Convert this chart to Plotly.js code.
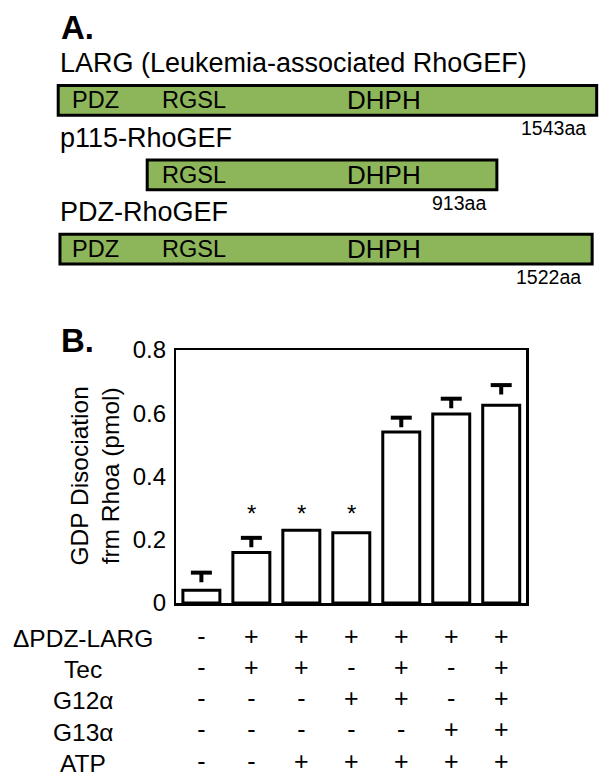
<!DOCTYPE html>
<html>
<head>
<meta charset="utf-8">
<script src="https://cdn.plot.ly/plotly-3.0.1.min.js"></script>
<style>html,body{margin:0;padding:0;background:#fff}#chart{width:608px;height:783px}</style>
</head>
<body>
<div id="chart"></div>
<script>
// ---- Panel A: domain diagrams (schematic, not to scale) ----
const proteins = ['LARG (Leukemia-associated RhoGEF)', 'p115-RhoGEF', 'PDZ-RhoGEF'];
const proteinLengthAA = [1543, 913, 1522];          // labelled lengths
const diagramStart = [0, 255, 5];                   // drawn extent (schematic units)
const diagramEnd = [1543, 1257, 1530];
const domainNames = ['PDZ', 'RGSL', 'DHPH'];
const domainLabelPos = [107, 389, 933];
const domainsPresent = [[true, true, true], [false, true, true], [true, true, true]];

// ---- Panel B: GDP dissociation ----
const lanes = [1, 2, 3, 4, 5, 6, 7];
const gdpDissociation = [0.04, 0.16, 0.23, 0.222, 0.541, 0.598, 0.625];
const gdpError = [0.056, 0.046, null, null, 0.045, 0.048, 0.064];
const significant = [false, true, true, true, false, false, false];
const asteriskLevel = 0.3;
const yTickVals = [0, 0.2, 0.4, 0.6, 0.8];
const yTickText = ['0', '0.2', '0.4', '0.6', '0.8'];
const conditionNames = ['\u0394PDZ-LARG', 'Tec', 'G12\u03b1', 'G13\u03b1', 'ATP'];
const conditionMatrix = [
  ['-', '+', '+', '+', '+', '+', '+'],
  ['-', '+', '+', '-', '+', '-', '+'],
  ['-', '-', '-', '+', '+', '-', '+'],
  ['-', '-', '-', '-', '-', '+', '+'],
  ['-', '-', '+', '+', '+', '+', '+']
];

const FONT = 'Liberation Sans, Arial, Helvetica, sans-serif';
const GREEN = '#8db55a';
const T_STEM = 0.03; // drawn length of the error-bar stem below its cap (style)

const traces = [];

// domain bars
traces.push({
  type: 'bar', orientation: 'h',
  y: proteins, x: diagramEnd.map((e, i) => e - diagramStart[i]), base: diagramStart,
  xaxis: 'x2', yaxis: 'y2', width: 0.4,
  marker: {color: GREEN, line: {color: '#000', width: 3}},
  hoverinfo: 'skip'
});

// GDP bars
traces.push({
  type: 'bar', x: lanes, y: gdpDissociation,
  xaxis: 'x', yaxis: 'y',
  marker: {color: '#fff', line: {color: '#000', width: 3}},
  hoverinfo: 'skip'
});

// error "T" marks (cap at mean + error, short stem below)
const ex = [], ey = [];
lanes.forEach((lane, i) => {
  if (gdpError[i] === null) return;
  ex.push(lane); ey.push(gdpDissociation[i] + gdpError[i]);
});
traces.push({
  type: 'scatter', mode: 'markers', x: ex, y: ey, xaxis: 'x', yaxis: 'y',
  marker: {symbol: 'line-ew', size: 15, color: '#000', line: {color: '#000', width: 4}},
  error_y: {type: 'data', symmetric: false, array: ex.map(() => 0),
    arrayminus: ex.map(() => T_STEM), width: 0, thickness: 4, color: '#000'},
  cliponaxis: false, hoverinfo: 'skip'
});

// condition table
const tx = [], ty = [], tt = [];
conditionNames.forEach((name, r) => {
  lanes.forEach((lane, c) => {
    tx.push(lane); ty.push(name); tt.push(conditionMatrix[r][c]);
  });
});
traces.push({
  type: 'scatter', mode: 'text', x: tx, y: ty, text: tt,
  xaxis: 'x', yaxis: 'y3', cliponaxis: false,
  textposition: 'middle center',
  textfont: {family: FONT, size: 25, color: '#000'},
  hoverinfo: 'skip'
});

const annotations = [];
// panel letters
annotations.push({text: '<b>A.</b>', xref: 'paper', yref: 'paper', x: 59/608, y: 1 - 27.5/783,
  xanchor: 'left', yanchor: 'middle', showarrow: false, font: {family: FONT, size: 33, color: '#000'}});
annotations.push({text: '<b>B.</b>', xref: 'paper', yref: 'paper', x: 59/608, y: 1 - 340/783,
  xanchor: 'left', yanchor: 'middle', showarrow: false, font: {family: FONT, size: 33, color: '#000'}});

// protein names, domain labels, lengths
proteins.forEach((p, i) => {
  annotations.push({text: p, xref: 'paper', yref: 'y2', x: 58/608, y: p, yshift: 37,
    xanchor: 'left', yanchor: 'middle', showarrow: false, font: {family: FONT, size: 27, color: '#000'}});
  domainNames.forEach((d, j) => {
    if (!domainsPresent[i][j]) return;
    annotations.push({text: d, xref: 'x2', yref: 'y2', x: domainLabelPos[j], y: p,
      xanchor: 'center', yanchor: 'middle', showarrow: false,
      font: {family: FONT, size: j === 2 ? 26 : 23.5, color: '#000'}});
  });
  annotations.push({text: proteinLengthAA[i] + 'aa', xref: 'x2', yref: 'y2',
    x: diagramEnd[i], y: p, xshift: -9, yshift: -28,
    xanchor: 'right', yanchor: 'middle', showarrow: false, font: {family: FONT, size: 19.5, color: '#000'}});
});

// y-axis title
annotations.push({text: 'GDP Disociation<br>frm Rhoa (pmol)', xref: 'paper', yref: 'paper',
  x: 95/608, y: 1 - 476.5/783, xanchor: 'center', yanchor: 'middle', textangle: -90,
  showarrow: false, font: {family: FONT, size: 24.5, color: '#000'}});

// asterisks
lanes.forEach((lane, i) => {
  if (!significant[i]) return;
  annotations.push({text: '*', xref: 'x', yref: 'y', x: lane, y: asteriskLevel, yshift: -5,
    xanchor: 'center', yanchor: 'middle', showarrow: false, font: {family: FONT, size: 24, color: '#000'}});
});

// row labels
conditionNames.forEach(name => {
  annotations.push({text: name, xref: 'paper', yref: 'y3', x: 83/608, y: name,
    xanchor: 'center', yanchor: 'middle', showarrow: false, font: {family: FONT, size: 24.5, color: '#000'}});
});

const layout = {
  width: 608, height: 783,
  margin: {l: 0, r: 0, t: 0, b: 0, pad: 0},
  paper_bgcolor: '#fff', plot_bgcolor: 'rgba(0,0,0,0)',
  showlegend: false,
  bargap: 0.26,
  font: {family: FONT, color: '#000'},
  xaxis: {domain: [176.4/608, 526.2/608], range: [0.5, 7.5], anchor: 'y',
    showline: true, mirror: true, linecolor: '#000', linewidth: 2.5,
    showticklabels: false, ticks: '', showgrid: false, zeroline: false, fixedrange: true},
  yaxis: {domain: [1 - 603/783, 1 - 350/783], range: [0, 0.8], anchor: 'x',
    showline: true, mirror: true, linecolor: '#000', linewidth: 2.5,
    tickvals: yTickVals, ticktext: yTickText, ticks: '', ticklabelstandoff: 3,
    tickfont: {family: FONT, size: 24, color: '#000'},
    showgrid: false, zeroline: false, fixedrange: true},
  xaxis2: {domain: [0, 1], range: [-166.8, 1575.4], anchor: 'y2', visible: false, fixedrange: true},
  yaxis2: {domain: [1 - 286.4/783, 1 - 63.3/783], type: 'category', range: [2.5, -0.5],
    anchor: 'x2', visible: false, fixedrange: true},
  yaxis3: {domain: [1 - 778.9/783, 1 - 622.7/783], type: 'category', range: [4.5, -0.5],
    anchor: 'x', visible: false, fixedrange: true},
  annotations: annotations
};

Plotly.newPlot('chart', traces, layout, {displayModeBar: false, staticPlot: true});
</script>
</body>
</html>
